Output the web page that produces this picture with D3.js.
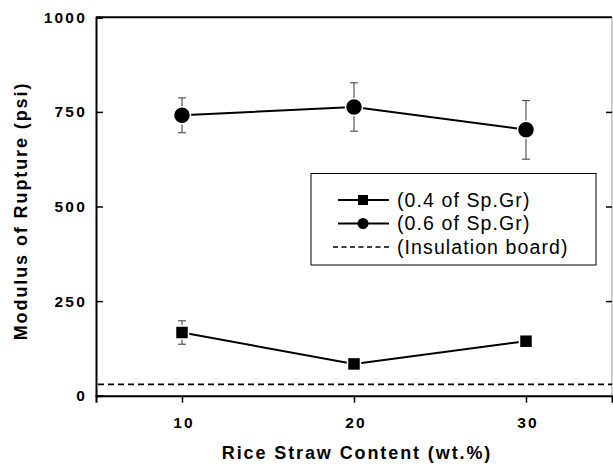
<!DOCTYPE html>
<html lang="en">
<head>
<meta charset="utf-8">
<title>Modulus of Rupture</title>
<script src="https://d3js.org/d3.v7.min.js"></script>
<style>
body { margin: 0; background: #fff; }
text { font-family: "Liberation Sans", Arial, sans-serif; }
.tick-label { font-weight: bold; font-size: 15.5px; letter-spacing: 2.2px; }
.axis-title { font-weight: bold; font-size: 18px; letter-spacing: 1.9px; }
.legend text { font-size: 19.5px; letter-spacing: 1.1px; }
</style>
</head>
<body>
<div id="chart"></div>
<script>
// data
var content = [10, 20, 30];
var lowDensity = [167, 84, 144];        // 0.4 of Sp.Gr
var lowErr = [31, 0, 10];
var highDensity = [741, 763, 703];      // 0.6 of Sp.Gr
var highErrUp = [46, 64, 77];
var highErrDown = [46, 64, 78];
var insulationBoard = 30;
var yTicks = [0, 250, 500, 750, 1000];
var xTicks = [10, 20, 30];

var width = 613, height = 465;
var svg = d3.select("#chart").append("svg")
  .attr("width", width)
  .attr("height", height);

var x = d3.scaleLinear().domain([5, 35]).range([96, 612]);
var y = d3.scaleLinear().domain([0, 1000]).range([395.7, 17.3]);

// frame
svg.append("line").attr("x1", x(5)).attr("x2", x(35)).attr("y1", y(1000)).attr("y2", y(1000))
  .attr("stroke", "#000").attr("stroke-width", 2);
svg.append("line").attr("x1", x(35)).attr("x2", x(35)).attr("y1", y(1000)).attr("y2", y(0))
  .attr("stroke", "#999").attr("stroke-width", 1);

// left axis, ticks pointing in
var yAxis = svg.append("g").attr("transform", "translate(" + x(5) + ",0)")
  .call(d3.axisRight(y).tickValues(yTicks).tickSize(7).tickFormat(""));
yAxis.select(".domain").attr("stroke-width", 2);
yAxis.selectAll(".tick line").attr("stroke-width", 1.5);

// right side ticks
var yAxisR = svg.append("g").attr("transform", "translate(" + x(35) + ",0)")
  .call(d3.axisLeft(y).tickValues(yTicks.slice(1, 4)).tickSize(6).tickFormat(""));
yAxisR.select(".domain").remove();
yAxisR.selectAll(".tick line").attr("stroke-width", 1.5);

svg.append("g").selectAll("text").data(yTicks).enter().append("text")
  .attr("class", "tick-label")
  .attr("x", 87)
  .attr("y", function(d) { return y(d); })
  .attr("dy", "0.36em")
  .attr("text-anchor", "end")
  .text(function(d) { return d; });

// bottom axis, ticks pointing out
var xAxis = svg.append("g").attr("transform", "translate(0," + y(0) + ")")
  .call(d3.axisBottom(x).tickValues(xTicks).tickSize(7).tickFormat(""));
xAxis.select(".domain").attr("stroke-width", 2);
xAxis.selectAll(".tick line").attr("stroke-width", 1.5);

svg.append("g").selectAll("text").data(xTicks).enter().append("text")
  .attr("class", "tick-label")
  .attr("x", function(d) { return x(d) + 2; })
  .attr("y", 428)
  .attr("text-anchor", "middle")
  .text(function(d) { return d; });

// axis titles
svg.append("text").attr("class", "axis-title")
  .attr("x", 357).attr("y", 459)
  .attr("text-anchor", "middle")
  .text("Rice Straw Content (wt.%)");
svg.append("text").attr("class", "axis-title")
  .attr("transform", "translate(27,211) rotate(-90)")
  .attr("text-anchor", "middle")
  .text("Modulus of Rupture (psi)");

// insulation board reference
svg.append("line")
  .attr("x1", x(5) + 2).attr("x2", x(35))
  .attr("y1", y(insulationBoard)).attr("y2", y(insulationBoard))
  .attr("stroke", "#000").attr("stroke-width", 1.8)
  .attr("stroke-dasharray", "6,4");

var line = d3.line().x(function(d) { return x(d[0]); }).y(function(d) { return y(d[1]); });

// error bars
function errorBars(vals, up, down) {
  var g = svg.append("g").attr("stroke", "#555").attr("stroke-width", 1.2);
  content.forEach(function(c, i) {
    if (!up[i] && !down[i]) return;
    var cx = x(c), t = y(vals[i] + up[i]), b = y(vals[i] - down[i]);
    g.append("line").attr("x1", cx).attr("x2", cx).attr("y1", t).attr("y2", b);
    g.append("line").attr("x1", cx - 4).attr("x2", cx + 4).attr("y1", t).attr("y2", t);
    g.append("line").attr("x1", cx - 4).attr("x2", cx + 4).attr("y1", b).attr("y2", b);
  });
}
errorBars(lowDensity, lowErr, lowErr);
errorBars(highDensity, highErrUp, highErrDown);

var lowPts = content.map(function(c, i) { return [c, lowDensity[i]]; });
var highPts = content.map(function(c, i) { return [c, highDensity[i]]; });

svg.append("path").datum(lowPts).attr("d", line)
  .attr("fill", "none").attr("stroke", "#000").attr("stroke-width", 2);
svg.append("path").datum(highPts).attr("d", line)
  .attr("fill", "none").attr("stroke", "#000").attr("stroke-width", 2);

svg.selectAll(".sq").data(lowPts).enter().append("rect")
  .attr("x", function(d) { return x(d[0]) - 6.5; })
  .attr("y", function(d) { return y(d[1]) - 6.5; })
  .attr("width", 13).attr("height", 13)
  .attr("fill", "#000").attr("stroke", "#fff").attr("stroke-width", 1.5);

svg.selectAll(".dot").data(highPts).enter().append("circle")
  .attr("cx", function(d) { return x(d[0]); })
  .attr("cy", function(d) { return y(d[1]); })
  .attr("r", 8.5)
  .attr("fill", "#000").attr("stroke", "#fff").attr("stroke-width", 1.5);

// legend
var legend = svg.append("g").attr("class", "legend");
legend.append("rect").attr("x", 311).attr("y", 173.5).attr("width", 285).attr("height", 91.5)
  .attr("fill", "#fff").attr("stroke", "#000").attr("stroke-width", 1);
var items = ["(0.4 of Sp.Gr)", "(0.6 of Sp.Gr)", "(Insulation board)"];
items.forEach(function(name, i) {
  var ly = 200 + i * 23.5;
  var ln = legend.append("line").attr("x1", i == 2 ? 333 : 338).attr("x2", 389)
    .attr("y1", ly).attr("y2", ly).attr("stroke", "#000").attr("stroke-width", i == 2 ? 1.3 : 2);
  if (i == 2) ln.attr("stroke-dasharray", "5,3.5");
  if (i == 0) legend.append("rect").attr("x", 358).attr("y", ly - 5).attr("width", 10).attr("height", 10).attr("fill", "#000");
  if (i == 1) legend.append("circle").attr("cx", 363).attr("cy", ly).attr("r", 5.5).attr("fill", "#000");
  legend.append("text").attr("x", 397).attr("y", ly).attr("dy", "0.35em").text(name);
});
</script>
</body>
</html>
